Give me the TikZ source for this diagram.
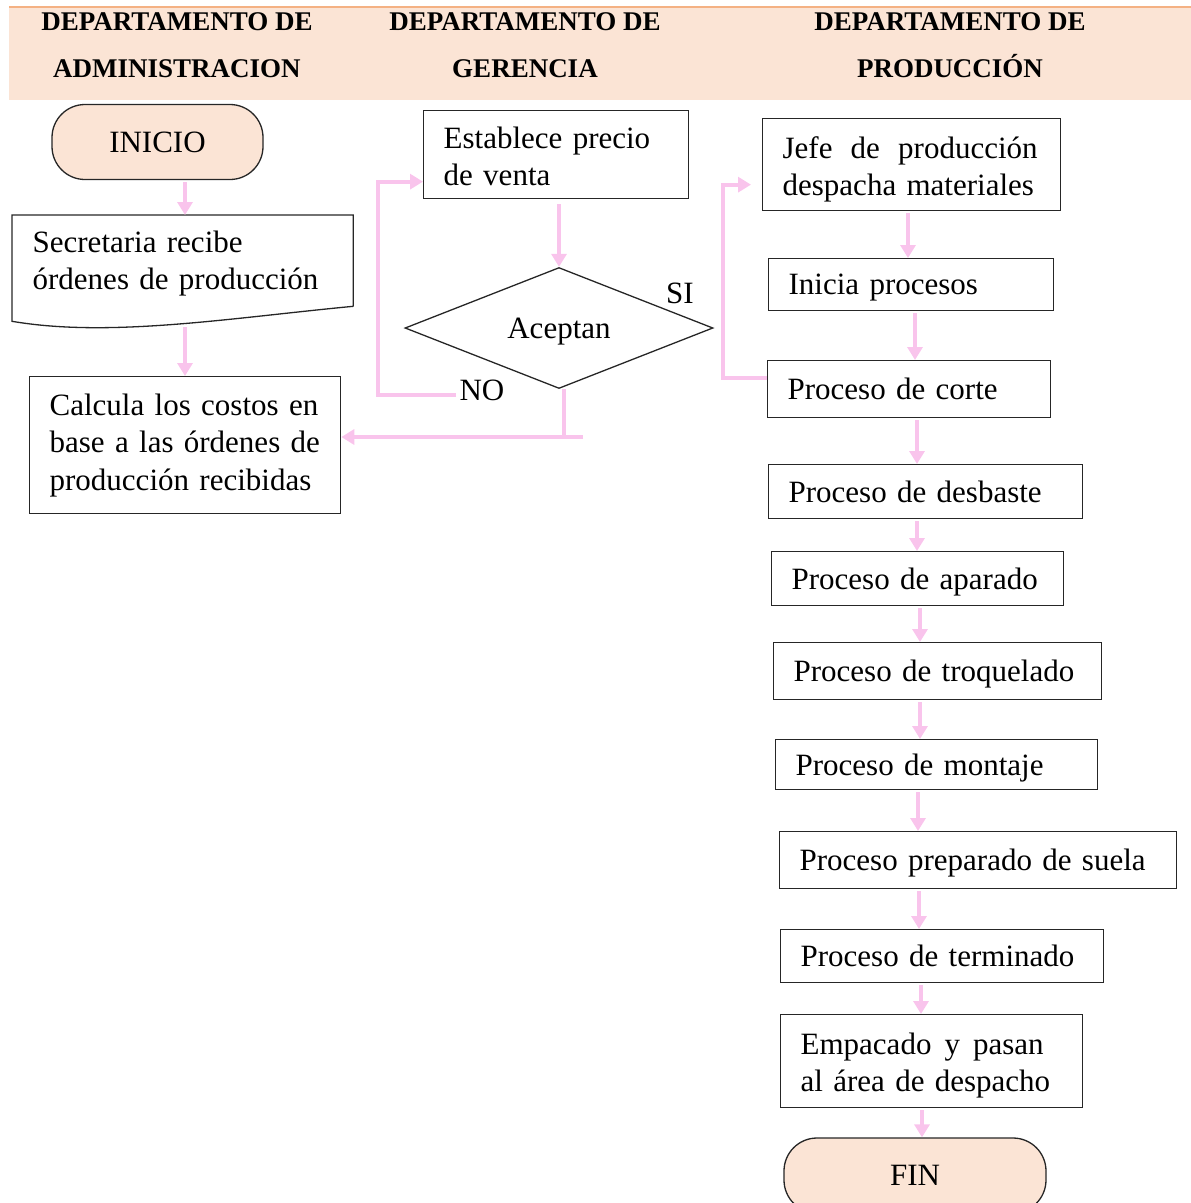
\documentclass[tikz,border=0pt]{standalone}
\usepackage{fontspec}
\setmainfont{Liberation Serif}
\usetikzlibrary{arrows.meta,positioning,calc,shapes.geometric}
\definecolor{flowpink}{RGB}{249,196,236}
\definecolor{peach}{RGB}{251,228,213}
\definecolor{bandline}{RGB}{244,177,131}
\newcommand{\lineup}[1]{\rule{0pt}{#1}}

\begin{document}
\begin{tikzpicture}[x=1pt,y=-1pt,
    box/.style={draw=black!85, line width=1.3pt, anchor=north west, inner xsep=20pt, inner ysep=0pt,
      align=left, font=\fontsize{31}{37.5}\selectfont},
    oneline/.style={box, text depth=0pt},
    term/.style={draw=black!85, line width=1.3pt, fill=peach, rounded corners=33pt,
      minimum height=75pt, font=\fontsize{31}{37.5}\selectfont},
    head/.style={align=center, font=\bfseries\fontsize{27}{47}\selectfont},
    lbl/.style={font=\fontsize{31}{37.5}\selectfont},
    flow/.style={flowpink, line width=4pt, -{Triangle[width=15pt,length=13pt]}},
    link/.style={flowpink, line width=4pt}]
  \useasboundingbox (0,0) rectangle (1191,1203);
  \clip (0,0) rectangle (1191,1203);

  % --- header band
  \fill[peach] (9,7) rectangle (1191,100);
  \draw[bandline, line width=2pt] (9,7) -- (1191,7);
  \node[head] (hadm)  at (177,45.5) {DEPARTAMENTO DE\\ADMINISTRACION};
  \node[head] (hger)  at (525,45.5) {DEPARTAMENTO DE\\GERENCIA};
  \node[head] (hprod) at (950,45.5) {DEPARTAMENTO DE\\PRODUCCIÓN};

  % --- administracion
  \node[term, minimum width=211pt] (inicio) at (157.5,142) {INICIO};
  \node[box, draw=none, text width=300pt, minimum height=90pt] (sec) at (12,215)
    {\lineup{27pt}Secretaria recibe\\órdenes de producción};
  \draw[black!85, line width=1.3pt] (sec.south east) -- (sec.north east) -- (sec.north west)
    -- ($(sec.south west)+(0,15)$) .. controls (110,338) and (230,318) .. (sec.south east);
  \coordinate (secb) at (185,327);
  \node[box, text width=271pt, minimum height=137pt] (calc) at (29,376)
    {Calcula los costos en\\base a las órdenes de\\producción recibidas};

  % --- gerencia
  \node[box, text width=225pt, minimum height=88pt] (est) at (423,110)
    {\lineup{25pt}Establece precio\\de venta};
  \node[diamond, draw=black!85, line width=1.3pt, aspect=2.55, minimum width=308pt, minimum height=121pt,
    inner sep=0pt, text depth=0pt, lbl] (acep) at (559,328) {Aceptan};
  \node[lbl] (si) at (680,293) {SI};
  \node[lbl] (no) at (482,390) {NO};
  \coordinate (tee) at (583,437);

  % --- produccion
  \node[box, text width=258pt, minimum height=92pt] (jefe) at (762,118)
    {\hbox to 255pt{\lineup{31pt}Jefe\hfill de\hfill producción}\\despacha materiales};
  \node[oneline, text width=245pt, minimum height=52pt] (ini)   at (768,258)  {Inicia procesos};
  \node[oneline, text width=243pt, minimum height=57pt] (corte) at (767,360)  {Proceso de corte};
  \node[oneline, text width=274pt, minimum height=54pt] (desb)  at (768,464)  {Proceso de desbaste};
  \node[oneline, text width=252pt, minimum height=54pt] (apar)  at (771,551)  {Proceso de aparado};
  \node[oneline, text width=288pt, minimum height=57pt] (troq)  at (773,642)  {Proceso de troquelado};
  \node[oneline, text width=282pt, minimum height=50pt] (mont)  at (775,739)  {Proceso de montaje};
  \node[oneline, text width=357pt, minimum height=57pt] (suela) at (779,831)  {Proceso preparado de suela};
  \node[oneline, text width=283pt, minimum height=53pt] (term)  at (780,929)  {Proceso de terminado};
  \node[box, text width=262pt, minimum height=93pt] (emp)   at (780,1014)
    {\hbox to 243pt{\lineup{30pt}Empacado\hfill y\hfill pasan}\\al área de despacho};
  \node[term, minimum width=262pt] (fin) at (915,1175.5) {FIN};

  % --- connectors
  \draw[flow, shorten <=2pt] (inicio.south -| 185,0) -- (sec.north -| 185,0);
  \draw[flow] (secb) -- (calc.north -| secb);
  \draw[flow, shorten <=5pt] (est.south -| 559,0) -- (acep.north);
  \draw[link] ([xshift=5pt]acep.south) -- ([xshift=5pt]acep.south |- tee);
  \draw[flow] (tee) -- (calc.east |- tee);
  \draw[flow] ([yshift=-5pt]no.west) -- ++(-78,0) |- ([yshift=-27pt]est.west);
  \draw[flow, shorten >=11pt] ([yshift=11.5pt]corte.west) -- ++(-44,0) |- ([yshift=-20pt]jefe.west);
  \foreach \a/\b/\xx in {jefe/ini/908, ini/corte/915, corte/desb/917, desb/apar/917,
      apar/troq/920, troq/mont/920, mont/suela/918, suela/term/919, term/emp/921, emp/fin/922}
    \draw[flow, shorten <=2pt] (\a.south -| \xx,0) -- (\b.north -| \xx,0);
\end{tikzpicture}
\end{document}
